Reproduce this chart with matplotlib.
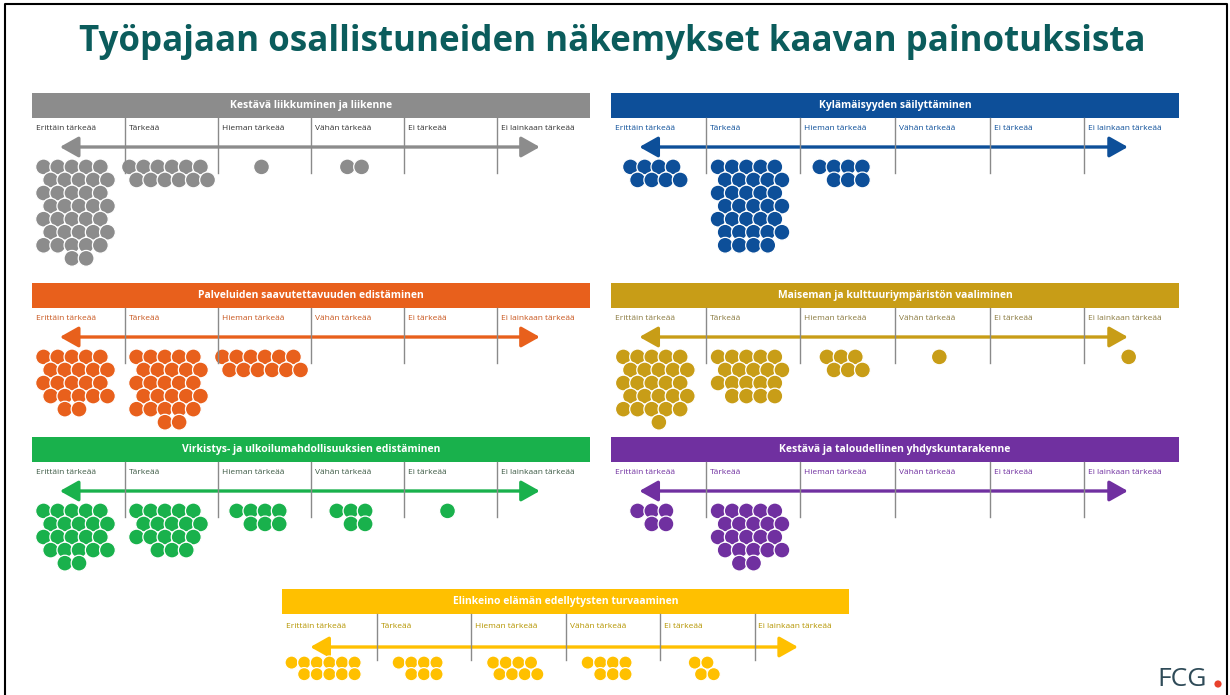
import math
import matplotlib
matplotlib.use("Agg")
import matplotlib.pyplot as plt
from matplotlib import font_manager
from matplotlib.patches import Circle, Rectangle, FancyArrowPatch

# categories on the scale
categories = ["Erittäin tärkeää", "Tärkeää", "Hieman tärkeää", "Vähän tärkeää",
              "Ei tärkeää", "Ei lainkaan tärkeää"]

topics = ["Kestävä liikkuminen ja liikenne",
          "Kylämäisyyden säilyttäminen",
          "Palveluiden saavutettavuuden edistäminen",
          "Maiseman ja kulttuuriympäristön vaaliminen",
          "Virkistys- ja ulkoilumahdollisuuksien edistäminen",
          "Kestävä ja taloudellinen yhdyskuntarakenne",
          "Elinkeino elämän edellytysten turvaaminen"]

# votes (dots) per category
kestava_liikkuminen = [37, 12, 1, 2, 0, 0]
kylamaisyys = [8, 34, 7, 0, 0, 0]
palvelut = [22, 27, 12, 0, 0, 0]
maisema = [26, 19, 6, 1, 0, 1]
virkistys = [22, 18, 7, 5, 1, 0]
yhdyskuntarakenne = [5, 22, 0, 0, 0, 0]
elinkeino = [11, 7, 8, 7, 4, 0]

title = "Työpajaan osallistuneiden näkemykset kaavan painotuksista"

available = {f.name for f in font_manager.fontManager.ttflist}
narrow = "Liberation Sans Narrow" if "Liberation Sans Narrow" in available else "Open Sans"
plt.rcParams["font.family"] = [narrow, "DejaVu Sans"]

fig = plt.figure(figsize=(12.3, 6.95), dpi=100)
ax = fig.add_axes([0, 0, 1, 1])
ax.set_xlim(0, 1230)
ax.set_ylim(695, 0)
ax.set_aspect("equal")
ax.axis("off")


def cluster(ax, n, cx, top, r, s, color):
    """Draw n dots packed in staggered rows, centered at cx."""
    if n == 0:
        return
    if n <= 3:
        cols = n
    elif n <= 12:
        cols = math.ceil(n / 2)
    else:
        cols = 5
    rows = math.ceil(n / cols)
    k = 0
    for row in range(rows):
        m = min(cols, n - k)
        shift = (s / 2) * (row % 2) - s / 4 if rows > 1 else 0
        for j in range(m):
            x = cx + (j - (m - 1) / 2) * s + shift
            y = top + r + row * s * 0.92
            ax.add_patch(Circle((x, y), r, facecolor=color, edgecolor="white", lw=0.9))
            k += 1


def panel(ax, x0, y0, w, color, label_color, name, counts, r=7.9, s=14.2,
          lab_off=36, arr_off=54, vend=80, dot_off=66):
    hh = 25
    ax.add_patch(Rectangle((x0, y0), w, hh, facecolor=color, edgecolor="none"))
    ax.text(x0 + w / 2, y0 + hh / 2, name, color="white", fontsize=7.5,
            fontweight="bold", ha="center", va="center")
    cw = w / 6
    for i, cat in enumerate(categories):
        ax.text(x0 + i * cw + 4, y0 + lab_off, cat, color=label_color,
                fontsize=6, ha="left", va="center")
        if i > 0:
            ax.plot([x0 + i * cw, x0 + i * cw], [y0 + hh, y0 + vend],
                    color="#8a8a8a", lw=1)
    ax.add_patch(FancyArrowPatch((x0 + 0.05 * w, y0 + arr_off), (x0 + 0.91 * w, y0 + arr_off),
                                 arrowstyle="<|-|>,head_length=0.8,head_width=0.45",
                                 mutation_scale=14, lw=2.4, color=color,
                                 shrinkA=0, shrinkB=0))
    for i, n in enumerate(counts):
        cluster(ax, n, x0 + i * cw + cw / 2 - 3, y0 + dot_off, r, s, color)


panel(ax, 32, 93, 558, "#8c8c8c", "#333333", topics[0], kestava_liikkuminen)
panel(ax, 611, 93, 568, "#0d4f99", "#0d4f99", topics[1], kylamaisyys)
panel(ax, 32, 283, 558, "#e8601c", "#c8561e", topics[2], palvelut)
panel(ax, 611, 283, 568, "#c89d17", "#8a7a40", topics[3], maisema)
panel(ax, 32, 437, 558, "#19b14c", "#3d5a45", topics[4], virkistys)
panel(ax, 611, 437, 568, "#7030a0", "#7030a0", topics[5], yhdyskuntarakenne)
panel(ax, 282, 589, 567, "#ffc000", "#b59500", topics[6], elinkeino,
      r=6.6, s=12.6, lab_off=38, arr_off=58, vend=71, dot_off=67)

# title, sized to the width it has in the reference (about 1065 px)
t = ax.text(612, 42, title, color="#0b5c5c", fontsize=30, fontweight="bold",
            ha="center", va="center")
fig.canvas.draw()
tw = t.get_window_extent(fig.canvas.get_renderer()).width
t.set_fontsize(30 * 1065 / tw)

# logo and frame
ax.text(1182, 679, "FCG", color="#2f4b58", fontsize=19, ha="center", va="center")
ax.add_patch(Circle((1218, 684), 3.6, facecolor="#e8412c", edgecolor="none"))
ax.plot([5, 5, 1227, 1227], [695, 4, 4, 695], color="black", lw=1.5)

fig.savefig("out.png", dpi=100)
